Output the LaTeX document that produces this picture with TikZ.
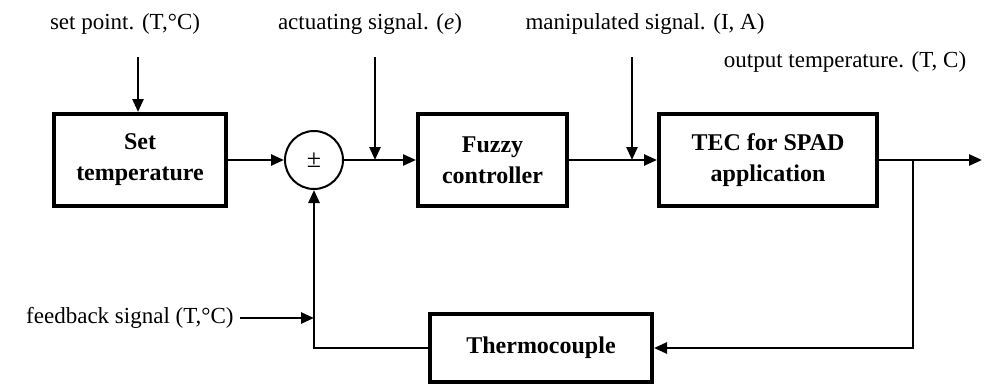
\documentclass[tikz,border=0pt]{standalone}
\usepackage{fontspec}
\setmainfont{Liberation Serif}
\usetikzlibrary{arrows.meta, positioning}
\tikzstyle{block}   = [rectangle, minimum width=86pt, minimum height=46pt,
                       text centered, align=center, draw=black, line width=2pt,
                       font=\fontsize{12}{15.5}\selectfont\bfseries]
\tikzstyle{sumnode} = [circle, minimum size=29pt, inner sep=0pt, draw=black,
                       line width=1pt, font=\fontsize{13}{15}\selectfont]
\tikzstyle{sig}     = [inner sep=0pt, font=\fontsize{11.5}{14}\selectfont]
\tikzstyle{arrow}   = [-{Triangle[length=6.5pt, width=5.5pt]}, line width=1.3pt]

\begin{document}
\begin{tikzpicture}[x=0.5pt, y=-0.5pt]
  \useasboundingbox (0,0) rectangle (992,386);

  \node (setT)   [block] at (140,160) {Set\\temperature};
  \node (sum)    [sumnode, right=28pt of setT] {±};
  \node (fuzzy)  [block, right=36pt of sum, minimum width=74.5pt] {Fuzzy\\controller};
  \node (tec)    [block, right=44pt of fuzzy, minimum width=109pt] {TEC for SPAD\\application};
  \node (thermo) [block, minimum width=111pt, minimum height=34pt] at (541,348) {Thermocouple};

  % Signal labels
  \node (spLbl) [sig] at (125,24) {set point. (T,°C)};
  \node (eLbl)  [sig] at (370,24) {actuating signal. (\textit{e})};
  \node (uLbl)  [sig] at (645,24) {manipulated signal. (I, A)};
  \node (yLbl)  [sig] at (845,62) {output temperature. (T, C)};
  \node (fbLbl) [sig, anchor=east] at (234,318) {feedback signal (T,°C)};

  \coordinate (spTop) at (138,57);
  \coordinate (eTop)  at (375,57);
  \coordinate (uTop)  at (632,57);
  \coordinate (yEnd)  at (982,160);
  \coordinate (tap)   at (913,160);

  \draw [arrow] (spTop) -- (spTop |- setT.north);
  \draw [arrow] (setT) -- (sum);
  \draw [arrow] (sum) -- (fuzzy);
  \draw [arrow] (eTop) -- (eTop |- sum.east);
  \draw [arrow] (fuzzy) -- (tec);
  \draw [arrow] (uTop) -- (uTop |- tec.west);
  \draw [arrow] (tec) -- (yEnd);

  % Feedback path
  \draw [arrow] (tap) |- (thermo);
  \draw [arrow] (thermo) -| (sum.south);
  \draw [arrow, shorten <=3pt] (fbLbl) -- (fbLbl -| sum.south);
\end{tikzpicture}
\end{document}
